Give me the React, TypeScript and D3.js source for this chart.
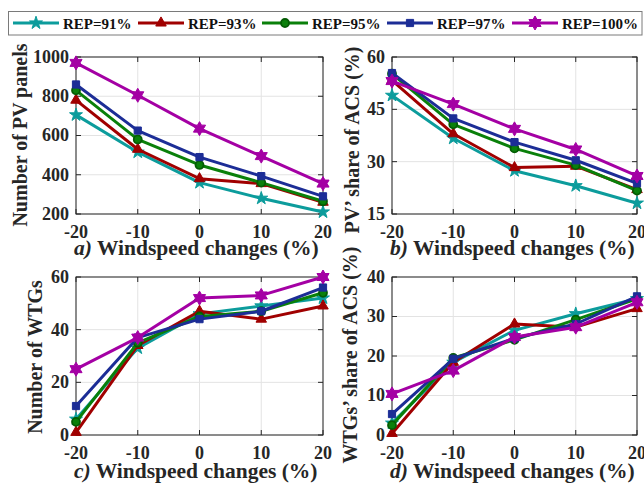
import React from 'react';
import * as d3 from 'd3';

const windspeed = [-20, -10, 0, 10, 20];
const seriesNames = ['REP=91%', 'REP=93%', 'REP=95%', 'REP=97%', 'REP=100%'];

const pvPanels = [
  [705, 515, 360, 280, 210],
  [780, 530, 380, 355, 260],
  [830, 580, 450, 360, 265],
  [860, 625, 490, 393, 290],
  [970, 805, 635, 495, 355],
];
const pvShare = [
  [49.0, 36.7, 27.4, 23.1, 18.1],
  [53.3, 38.0, 28.3, 28.7, 22.0],
  [55.2, 40.7, 33.8, 29.0, 21.7],
  [55.4, 42.4, 35.6, 30.4, 23.8],
  [53.1, 46.5, 39.4, 33.5, 25.9],
];
const wtgCount = [
  [6, 33, 46, 49, 52],
  [1, 34, 47, 44, 49],
  [5, 35, 45, 47, 54],
  [11, 37, 44, 47, 56],
  [25, 37, 52, 53, 60],
];
const wtgShare = [
  [3.0, 18.4, 26.5, 30.7, 34.5],
  [0.4, 18.4, 28.1, 27.3, 32.0],
  [2.5, 19.5, 24.1, 29.2, 34.5],
  [5.3, 19.3, 24.5, 28.1, 35.1],
  [10.4, 16.3, 24.8, 27.3, 33.6],
];

const xTicks = [-20, -10, 0, 10, 20];
const pvTicks = [200, 400, 600, 800, 1000];
const pvShareTicks = [15, 30, 45, 60];
const wtgTicks = [0, 20, 40, 60];
const wtgShareTicks = [0, 10, 20, 30, 40];

const colors = ['#0c9c9c', '#a00000', '#0a800a', '#1c2d96', '#a400a4'];
const strokes = ['#0c9c9c', '#a00000', '#045c04', '#1c2d96', '#a400a4'];
const FONT = '"Liberation Serif", "Times New Roman", serif';

function hexagram(r: number) {
  const ri = r / Math.sqrt(3);
  const pts: string[] = [];
  for (let i = 0; i < 12; i++) {
    const a = (Math.PI / 6) * i - Math.PI / 2;
    const rr = i % 2 === 0 ? r : ri;
    pts.push(`${(rr * Math.cos(a)).toFixed(2)},${(rr * Math.sin(a)).toFixed(2)}`);
  }
  return 'M' + pts.join('L') + 'Z';
}

function markerPath(i: number) {
  switch (i) {
    case 0: return d3.symbol().type(d3.symbolStar).size(52)()!;
    case 1: return d3.symbol().type(d3.symbolTriangle).size(48)()!;
    case 2: return d3.symbol().type(d3.symbolCircle).size(50)()!;
    case 3: return d3.symbol().type(d3.symbolSquare).size(52)()!;
    default: return hexagram(7);
  }
}

type PanelProps = {
  x0: number; x1: number; y0: number; y1: number;
  data: number[][]; yTicks: number[]; letter: string; yLabel: string;
  yLabelX: number; yLabelY: number; xLabelY: number;
};

function Panel(p: PanelProps) {
  const x = d3.scaleLinear().domain([-20, 20]).range([p.x0, p.x1]);
  const y = d3.scaleLinear().domain([p.yTicks[0], p.yTicks[p.yTicks.length - 1]]).range([p.y1, p.y0]);
  const line = d3.line<number>().x((_, i) => x(windspeed[i])).y((d) => y(d));
  const tl = 5;
  const axisColor = '#262626';
  return (
    <g>
      {xTicks.map((t) => (
        <line key={'gx' + t} x1={x(t)} x2={x(t)} y1={p.y0} y2={p.y1} stroke="#e3e3e3" strokeWidth={1} />
      ))}
      {p.yTicks.map((t) => (
        <line key={'gy' + t} x1={p.x0} x2={p.x1} y1={y(t)} y2={y(t)} stroke="#e3e3e3" strokeWidth={1} />
      ))}
      {xTicks.map((t) => (
        <g key={'tx' + t}>
          <line x1={x(t)} x2={x(t)} y1={p.y1} y2={p.y1 - tl} stroke={axisColor} />
          <line x1={x(t)} x2={x(t)} y1={p.y0} y2={p.y0 + tl} stroke={axisColor} />
          <text x={x(t)} y={p.y1 + 24} textAnchor="middle" fontFamily={FONT} fontWeight="bold" fontSize={18} fill="#262626">{t}</text>
        </g>
      ))}
      {p.yTicks.map((t) => (
        <g key={'ty' + t}>
          <line x1={p.x0} x2={p.x0 + tl} y1={y(t)} y2={y(t)} stroke={axisColor} />
          <line x1={p.x1} x2={p.x1 - tl} y1={y(t)} y2={y(t)} stroke={axisColor} />
          <text x={p.x0 - 7} y={y(t)} dy="0.33em" textAnchor="end" fontFamily={FONT} fontWeight="bold" fontSize={18} fill="#262626">{t}</text>
        </g>
      ))}
      <rect x={p.x0} y={p.y0} width={p.x1 - p.x0} height={p.y1 - p.y0} fill="none" stroke={axisColor} strokeWidth={1} />
      {p.data.map((s, i) => (
        <g key={'s' + i}>
          <path d={line(s)!} fill="none" stroke={colors[i]} strokeWidth={3} strokeLinejoin="round" />
          {s.map((v, j) => (
            <path key={j} d={markerPath(i)} transform={`translate(${x(windspeed[j])},${y(v)})`}
              fill={colors[i]} stroke={strokes[i]} strokeWidth={i === 2 ? 1.8 : 1} />
          ))}
        </g>
      ))}
      <text x={p.x0 - 2} y={p.xLabelY} fontFamily={FONT} fontWeight="bold" fontSize={21.5} fill="#262626">
        <tspan fontStyle="italic">{p.letter + ')'}</tspan>
        <tspan> Windspeed changes (%)</tspan>
      </text>
      <text transform={`translate(${p.yLabelX},${p.yLabelY}) rotate(-90)`} textAnchor="middle"
        fontFamily={FONT} fontWeight="bold" fontSize={20} fill="#262626">{p.yLabel}</text>
    </g>
  );
}

function Legend() {
  const starts = [13, 138, 262, 387, 512];
  return (
    <g>
      <rect x={8.5} y={11.5} width={633.5} height={23.5} fill="#fff" stroke="#7a7a7a" strokeWidth={1} />
      {seriesNames.map((n, i) => (
        <g key={n}>
          <line x1={starts[i]} x2={starts[i] + 46} y1={23} y2={23} stroke={colors[i]} strokeWidth={3} />
          <path d={markerPath(i)} transform={`translate(${starts[i] + 23},23)`} fill={colors[i]} stroke={strokes[i]} strokeWidth={i === 2 ? 1.8 : 1} />
          <text x={starts[i] + 50} y={28.5} fontFamily={FONT} fontWeight="bold" fontSize={15} fill="#111">{n}</text>
        </g>
      ))}
    </g>
  );
}

export default function App() {
  return (
    <svg width={644} height={483} style={{ position: 'absolute', left: 0, top: 0, display: 'block', background: '#fff' }}>
      <rect width={644} height={483} fill="#fff" />
      <Panel x0={76} x1={323} y0={57} y1={214} data={pvPanels} yTicks={pvTicks} letter="a"
        yLabel="Number of PV panels" yLabelX={27} yLabelY={135} xLabelY={255} />
      <Panel x0={392} x1={637} y0={57} y1={214} data={pvShare} yTicks={pvShareTicks} letter="b"
        yLabel="PV’ share of ACS (%)" yLabelX={359} yLabelY={140} xLabelY={255} />
      <Panel x0={76} x1={323} y0={277} y1={435} data={wtgCount} yTicks={wtgTicks} letter="c"
        yLabel="Number of WTGs" yLabelX={42} yLabelY={357} xLabelY={477.5} />
      <Panel x0={392} x1={637} y0={277} y1={435} data={wtgShare} yTicks={wtgShareTicks} letter="d"
        yLabel="WTGs’ share of ACS (%)" yLabelX={357} yLabelY={355} xLabelY={477.5} />
      <Legend />
    </svg>
  );
}
